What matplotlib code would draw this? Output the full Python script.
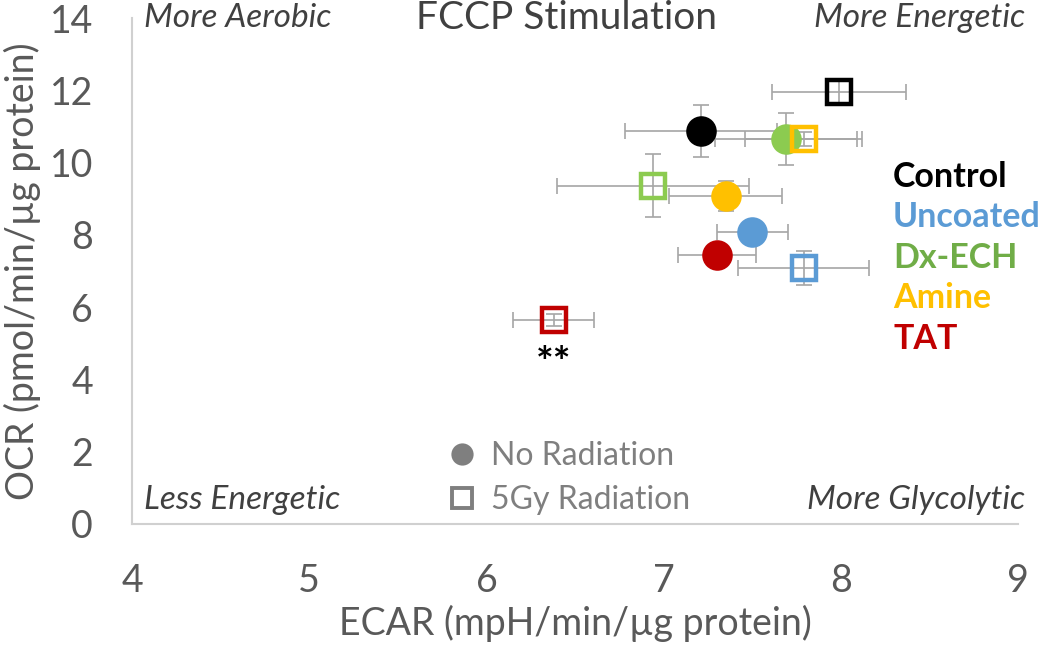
import matplotlib
matplotlib.use("Agg")
import matplotlib.pyplot as plt
from matplotlib.lines import Line2D

# ---------------- data ----------------
groups = ["Control", "Uncoated", "Dx-ECH", "Amine", "TAT"]
marker_colors = ["#000000", "#5B9BD5", "#8CCB50", "#FFC000", "#C00000"]
label_colors = ["#000000", "#5B9BD5", "#70AD47", "#FFC000", "#C00000"]

# No radiation (filled circles)
ecar_norad = [7.21, 7.50, 7.69, 7.35, 7.30]
ocr_norad = [10.88, 8.09, 10.65, 9.08, 7.45]
ecar_norad_err = [0.43, 0.20, 0.40, 0.32, 0.22]
ocr_norad_err = [0.72, 0.10, 0.72, 0.42, 0.10]

# 5Gy radiation (open squares)
ecar_rad = [7.99, 7.79, 6.94, 7.79, 6.38]
ocr_rad = [11.95, 7.08, 9.36, 10.65, 5.64]
ecar_rad_err = [0.38, 0.37, 0.54, 0.33, 0.23]
ocr_rad_err = [0.35, 0.47, 0.87, 0.20, 0.17]

x_ticks = [4, 5, 6, 7, 8, 9]
y_ticks = [0, 2, 4, 6, 8, 10, 12, 14]

FONT = "Lato"
plt.rcParams["font.family"] = [FONT, "DejaVu Sans"]

fig = plt.figure(figsize=(10.5, 6.47), dpi=100)
ax = fig.add_axes([132 / 1050, 1 - 524 / 647, (1018 - 132) / 1050, (524 - 18) / 647])

err_kw = dict(fmt="none", ecolor="#A6A6A6", elinewidth=1.2, capsize=5.5, capthick=1.2)

for i in range(len(groups)):
    ax.errorbar(ecar_norad[i], ocr_norad[i], xerr=ecar_norad_err[i], yerr=ocr_norad_err[i],
                zorder=1, **err_kw)
    ax.errorbar(ecar_rad[i], ocr_rad[i], xerr=ecar_rad_err[i], yerr=ocr_rad_err[i],
                zorder=1, **err_kw)

for i in range(len(groups)):
    ax.plot(ecar_norad[i], ocr_norad[i], "o", ms=22, mfc=marker_colors[i], mec="none", zorder=2)
for i in range(len(groups)):
    ax.plot(ecar_rad[i], ocr_rad[i], "s", ms=17.5, mfc="none", mec=marker_colors[i], mew=3.2,
            zorder=3)

# significance mark under TAT radiated
ax.annotate("**", (ecar_rad[4], ocr_rad[4]), xytext=(0, -32), textcoords="offset points",
            ha="center", va="center", fontsize=30, color="#000000", fontweight="bold")

ax.set_xlim(x_ticks[0], x_ticks[-1])
ax.set_ylim(y_ticks[0], y_ticks[-1])
ax.set_xticks(x_ticks)
ax.set_yticks(y_ticks)
ax.tick_params(length=0, labelsize=27, labelcolor="#595959")
ax.tick_params(axis="y", pad=28)
ax.tick_params(axis="x", pad=28)
for s in ["top", "right"]:
    ax.spines[s].set_visible(False)
for s in ["left", "bottom"]:
    ax.spines[s].set_color("#D0D0D0")
    ax.spines[s].set_linewidth(1.5)

ax.set_xlabel("ECAR (mpH/min/µg protein)", fontsize=27, color="#595959", labelpad=4)
ax.set_ylabel("OCR (pmol/min/µg protein)", fontsize=27, color="#595959", labelpad=6)

# title and quadrant labels
ax.text(0.49, 1.0, "FCCP Stimulation", transform=ax.transAxes, ha="center", va="center",
        fontsize=28, color="#404040")
corner_kw = dict(transform=ax.transAxes, fontsize=24, style="italic", color="#404040", va="center")
ax.text(0.013, 1.0, "More Aerobic", ha="left", **corner_kw)
ax.text(1.008, 1.0, "More Energetic", ha="right", **corner_kw)
ax.text(0.013, 0.047, "Less Energetic", ha="left", **corner_kw)
ax.text(1.008, 0.047, "More Glycolytic", ha="right", **corner_kw)

# group color labels
for i, (g, c) in enumerate(zip(groups, label_colors)):
    fig.text(893 / 1050, 1 - (177 + 40.5 * i) / 647, g, color=c, fontsize=24.5,
             fontweight="bold", ha="left", va="center")

# radiation legend
handles = [
    Line2D([], [], ls="none", marker="o", ms=16, mfc="#7F7F7F", mec="none"),
    Line2D([], [], ls="none", marker="s", ms=14, mfc="none", mec="#7F7F7F", mew=2.8),
]
leg = ax.legend(handles, ["No Radiation", "5Gy Radiation"], loc="center left",
                bbox_to_anchor=(448 / 1050, 1 - 478 / 647), bbox_transform=fig.transFigure,
                frameon=False, fontsize=23, handlelength=0.85, handletextpad=0.5,
                labelspacing=0.42, borderpad=0, borderaxespad=0)
for t in leg.get_texts():
    t.set_color("#7F7F7F")

fig.savefig("out.png", dpi=100)
